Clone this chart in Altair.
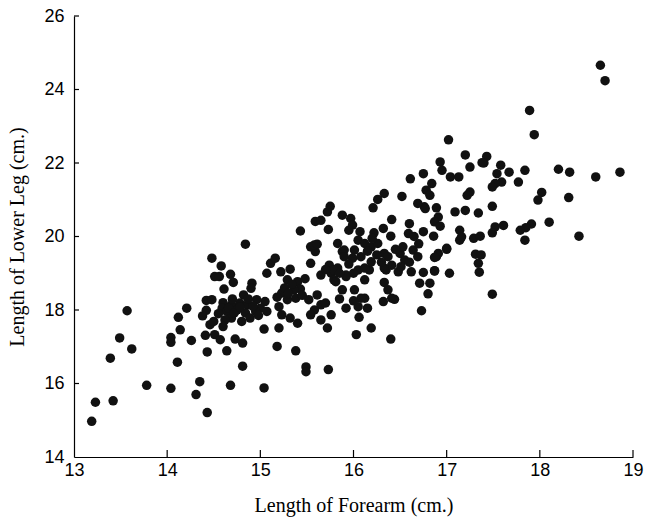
import altair as alt
import pandas as pd

forearm = [
    14.48, 14.51, 13.57, 14.21, 14.42, 14.42, 14.38, 14.12, 14.46, 14.51, 14.41, 14.14, 14.04, 14.04,
    14.26, 13.49, 13.62, 13.39, 14.43, 14.11, 13.78, 14.04, 14.35, 14.31, 13.23, 13.42, 13.19, 14.43,
    14.84, 14.58, 14.56, 14.68, 14.71, 14.61, 14.91, 14.90, 14.82, 14.48, 14.60, 14.59, 14.64, 14.69,
    14.75, 14.78, 14.86, 14.84, 14.89, 14.80, 14.69, 14.62, 14.60, 14.50, 14.96, 15.05, 15.00, 15.07,
    14.95, 15.04, 15.20, 15.18, 15.38, 14.73, 14.81, 14.57, 14.64, 14.81, 14.68, 15.04, 15.49, 15.49,
    15.73, 15.11, 15.16, 15.07, 15.22, 15.32, 15.29, 15.40, 15.43, 15.36, 15.23, 15.29, 15.38, 15.20,
    15.23, 15.32, 15.40, 15.54, 15.59, 15.54, 15.65, 15.74, 15.76, 15.83, 15.79, 15.88, 15.83, 15.88,
    15.52, 15.61, 15.65, 15.58, 15.54, 15.70, 15.76, 15.65, 15.72, 15.92,
    16.32, 16.44, 16.37, 16.33, 16.73, 16.06, 16.03, 16.19, 16.40, 16.05, 16.12, 16.01, 16.12, 15.92,
    16.05, 16.17, 16.19, 16.35, 16.48, 16.62, 16.75, 16.87, 17.03, 16.71, 16.82, 16.80, 16.89, 17.00,
    17.31, 17.34, 17.35, 17.14, 16.33, 16.50, 16.64, 16.69, 17.49,
    18.65, 18.70, 17.89, 17.94, 17.43, 17.40, 17.58, 17.67, 17.54, 17.59, 17.52, 17.49, 17.84, 17.77,
    18.20, 18.32, 18.60, 18.86, 18.02, 17.98, 18.31, 17.49, 18.10, 18.42, 17.91, 17.85, 17.79, 17.84,
    17.61, 17.52, 17.49,
    17.02, 17.20, 17.38, 17.25, 16.93, 16.95, 16.75, 17.04, 17.13, 16.84, 16.78, 16.82, 17.25, 17.22,
    16.76, 16.89, 17.09, 17.20, 17.34, 16.91, 16.87, 16.93, 16.75, 16.86, 17.14, 17.16, 17.29, 17.36,
    17.00, 16.91, 16.87, 17.37, 16.87,
    16.61, 16.69, 16.77, 16.52, 16.33, 16.26, 16.21, 15.72, 15.88, 15.97, 15.99, 15.73, 16.07, 15.95,
    16.22, 16.32, 16.41, 16.40, 16.59, 15.90, 16.05, 16.12, 16.19, 16.26, 16.01, 15.99, 16.08, 16.37,
    16.53, 16.55, 16.51, 16.41, 16.33, 15.79, 15.81, 15.92, 16.12, 16.41, 16.08,
    15.43, 15.59, 15.58, 15.75, 15.65, 15.61,
    14.66, 14.72, 14.78, 14.92, 14.98, 14.70, 14.55, 14.87,
    15.26, 15.34, 15.45, 15.18, 15.48, 15.30,
    15.70, 15.85, 15.95, 16.00, 15.90,
    16.25, 16.30, 16.45, 16.20, 16.15,
    16.60, 16.70, 16.60, 16.65,
    15.85, 16.00, 16.15,
]
lower_leg = [
    19.41, 18.91, 17.98, 18.05, 18.26, 17.99, 17.84, 17.80, 17.60, 17.33, 17.31, 17.46, 17.25, 17.12,
    17.17, 17.24, 16.94, 16.69, 16.86, 16.58, 15.95, 15.87, 16.05, 15.70, 15.49, 15.53, 14.97, 15.21,
    19.79, 19.20, 18.91, 18.97, 18.75, 18.57, 18.73, 18.59, 18.41, 18.28, 18.20, 18.05, 17.96, 18.14,
    18.00, 18.19, 18.14, 17.92, 17.78, 17.69, 17.78, 17.73, 17.55, 17.69, 18.28, 18.23, 18.05, 17.96,
    17.96, 17.48, 17.51, 17.01, 16.89, 17.21, 17.10, 17.19, 16.89, 16.47, 15.95, 15.88, 16.45, 16.32,
    16.38, 19.27, 19.41, 19.00, 19.04, 19.11, 18.82, 18.77, 18.57, 18.55, 18.46, 18.28, 18.32, 18.09,
    17.87, 17.78, 17.64, 19.72, 19.59, 19.27, 18.95, 19.22, 19.00, 19.14, 18.82, 18.55, 19.81, 19.59,
    18.28, 18.41, 18.14, 18.00, 17.87, 18.19, 17.87, 17.73, 17.51, 18.05,
    18.23, 18.29, 18.55, 18.75, 17.98, 17.80, 17.33, 17.51, 17.21, 18.09, 18.32, 18.55, 18.82, 18.91,
    19.09, 19.09, 19.31, 19.09, 19.04, 19.04, 19.02, 19.07, 19.00, 18.73, 18.73, 18.44, 19.45, 19.65,
    19.52, 19.27, 19.03, 19.90, 19.54, 19.54, 19.63, 19.45, 18.43,
    24.66, 24.24, 23.43, 22.77, 22.18, 22.00, 21.94, 21.75, 21.71, 21.48, 21.44, 21.35, 21.80, 21.48,
    21.83, 21.75, 21.62, 21.75, 21.20, 20.99, 21.06, 20.82, 20.39, 20.01, 20.34, 20.24, 20.17, 19.90,
    20.30, 20.26, 20.10,
    22.63, 22.22, 22.01, 21.89, 22.03, 21.80, 21.71, 21.62, 21.62, 21.44, 21.26, 21.12, 21.21, 21.12,
    20.81, 20.78, 20.67, 20.71, 20.64, 20.53, 20.40, 20.28, 20.13, 20.01, 20.17, 19.99, 19.95, 20.01,
    19.68, 19.54, 19.43, 19.50, 19.06,
    21.57, 20.90, 20.76, 21.09, 21.17, 21.01, 20.78, 20.67, 20.58, 20.49, 20.31, 20.19, 20.13, 20.17,
    20.10, 20.22, 20.46, 20.01, 20.08, 19.63, 19.90, 19.81, 19.72, 19.81, 19.63, 19.41, 19.45, 19.45,
    19.72, 19.36, 19.18, 19.22, 19.14, 19.09, 18.77, 18.95, 19.14, 18.32, 18.32,
    20.15, 20.41, 19.77, 20.82, 20.44, 19.79,
    18.05, 17.92, 18.08, 18.10, 17.85, 18.30, 17.90, 18.30,
    18.60, 18.70, 18.40, 18.35, 18.85, 18.45,
    19.10, 19.00, 19.25, 19.00, 19.45,
    19.50, 19.30, 19.65, 19.95, 19.60,
    19.30, 19.80, 20.35, 20.00,
    18.30, 18.25, 18.05,
]
x_ticks = [13, 14, 15, 16, 17, 18, 19]
y_ticks = [14, 16, 18, 20, 22, 24, 26]

W, H = 559, 441

df = pd.DataFrame({"forearm": forearm, "leg": lower_leg})
xs = alt.Scale(domain=[13, 19], nice=False, zero=False)
ys = alt.Scale(domain=[14, 26], nice=False, zero=False)
xaxis = alt.Axis(values=x_ticks, title="Length of Forearm (cm.)", format="d",
                 labelPadding=4, titlePadding=16, labelFlush=False)
yaxis = alt.Axis(values=y_ticks, title="Length of Lower Leg (cm.)", format="d",
                 labelPadding=10, titlePadding=16, labelFlush=False)

points = alt.Chart(df).mark_circle(size=90, color="#111111", opacity=1).encode(
    x=alt.X("forearm:Q", scale=xs, axis=xaxis),
    y=alt.Y("leg:Q", scale=ys, axis=yaxis),
)

xtick = alt.Chart(pd.DataFrame({"t": x_ticks[1:]})).mark_rule(color="black", strokeWidth=1.2).encode(
    x=alt.X("t:Q", scale=xs, axis=xaxis), y=alt.value(H), y2=alt.value(H - 7))
ytick = alt.Chart(pd.DataFrame({"t": y_ticks[1:]})).mark_rule(color="black", strokeWidth=1.2).encode(
    y=alt.Y("t:Q", scale=ys, axis=yaxis), x=alt.value(0), x2=alt.value(5))

chart = alt.layer(points, xtick, ytick).properties(
    width=W, height=H,
    padding={"left": 74, "top": 16, "right": 14, "bottom": 62},
    autosize=alt.AutoSizeParams(type="none"),
).configure_view(stroke=None).configure_axis(
    grid=False, ticks=False, domainColor="black", domainWidth=1.2,
    labelFont="Liberation Sans", labelFontSize=18, labelColor="black",
    titleFont="Liberation Serif", titleFontSize=20, titleFontWeight="normal", titleColor="black",
)

chart.save("out.html", embed_options={"renderer": "svg", "actions": False})
